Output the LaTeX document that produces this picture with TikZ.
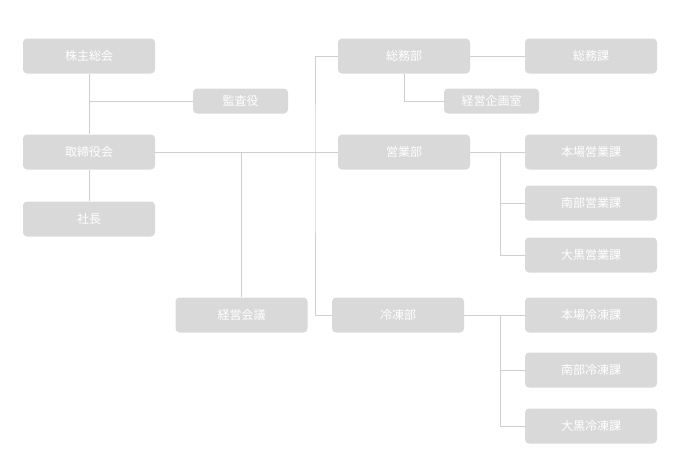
\documentclass[tikz,border=0pt]{standalone}
\usepackage{fontspec}
\newfontfamily\cjk{Noto Sans CJK JP}
\definecolor{boxgray}{HTML}{D9D9D9}
\definecolor{linegray}{HTML}{CFCFCF}
\tikzset{
  unit/.style={rounded corners=4pt,fill=boxgray,text=white,font=\cjk\fontsize{12}{12}\selectfont,
    minimum width=132pt,minimum height=35pt,inner sep=0pt},
  smallunit/.style={unit,minimum width=95pt,minimum height=25pt},
  link/.style={linegray,line width=0.8pt}
}
\begin{document}
\begin{tikzpicture}[x=1pt,y=-1pt]
  \useasboundingbox (0,0) rectangle (700,471);
  % left column
  \node[unit] (kabu) at (89,56) {株主総会};
  \node[smallunit] (kansa) at (240.5,101) {監査役};
  \node[unit] (torishimari) at (89,152) {取締役会};
  \node[unit] (shacho) at (89,219) {社長};
  \node[unit] (kaigi) at (241.5,315) {経営会議};
  % departments
  \node[unit] (somubu) at (404,56) {総務部};
  \node[unit] (somuka) at (591,56) {総務課};
  \node[smallunit] (kikaku) at (491.5,101) {経営企画室};
  \node[unit] (eigyobu) at (404,152) {営業部};
  \node[unit] (honjoE) at (591,152) {本場営業課};
  \node[unit] (nanbuE) at (591,203) {南部営業課};
  \node[unit] (daikokuE) at (591,255) {大黒営業課};
  \node[unit] (reitobu) at (398,315) {冷凍部};
  \node[unit] (honjoR) at (591,315) {本場冷凍課};
  \node[unit] (nanbuR) at (591,370) {南部冷凍課};
  \node[unit] (daikokuR) at (591,426) {大黒冷凍課};
  % connectors
  \draw[link] (kabu) -- (torishimari) -- (shacho);
  \draw[link] (kabu |- kansa) -- (kansa);
  \draw[link] (torishimari) -- (eigyobu);
  \draw[link] (kaigi.north) -- (kaigi |- torishimari);
  \draw[link] (somubu.west) -| (315,152) |- (reitobu.west);
  \draw[link] (somubu) -- (somuka);
  \draw[link] (somubu.south) |- (kikaku.west);
  \draw[link] (eigyobu.east) -- (honjoE.west);
  \draw[link] (500,152) |- (daikokuE.west);
  \draw[link] (500,203) -- (nanbuE.west);
  \draw[link] (reitobu.east) -- (honjoR.west);
  \draw[link] (500,315) |- (daikokuR.west);
  \draw[link] (500,370) -- (nanbuR.west);
\end{tikzpicture}
\end{document}
